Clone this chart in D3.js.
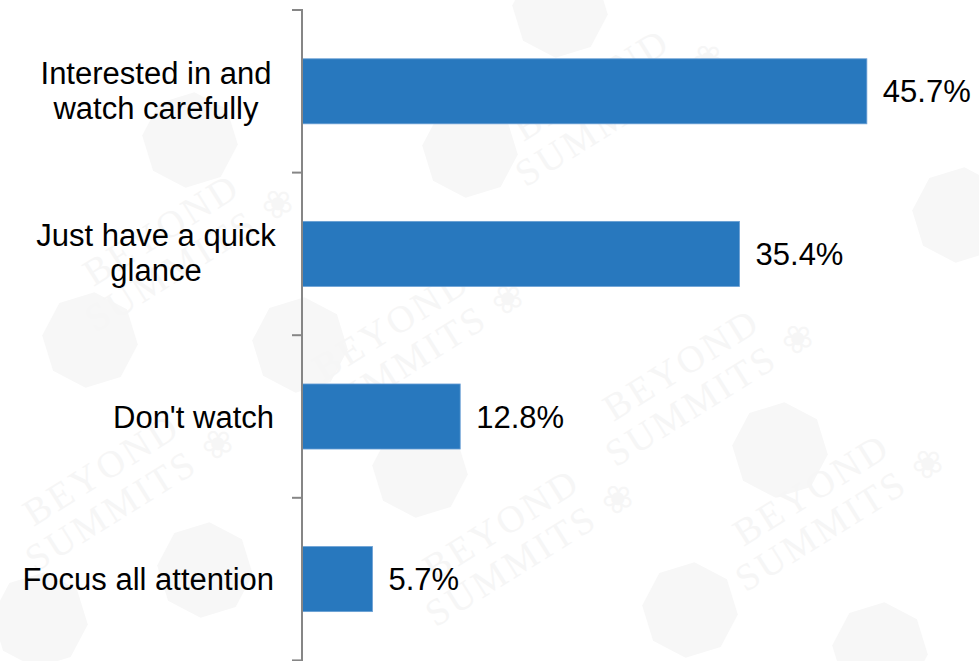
<!DOCTYPE html>
<html>
<head>
<meta charset="utf-8">
<script src="https://cdn.jsdelivr.net/npm/d3@7"></script>
<style>
  html, body { margin: 0; padding: 0; background: #ffffff; }
  svg { display: block; }
  .lbl { font-family: "Liberation Sans", Arial, sans-serif; }
  .wm-word { font-family: "Liberation Serif", "DejaVu Serif", serif; }
</style>
</head>
<body>
<svg id="chart" width="979" height="661"></svg>
<script>
// Survey answers, top to bottom
const categories = [
  "Interested in and\nwatch carefully",
  "Just have a quick\nglance",
  "Don't watch",
  "Focus all attention"
];
const values = [45.7, 35.4, 12.8, 5.7];
const valueLabels = ["45.7%", "35.4%", "12.8%", "5.7%"];

// Background brand watermark: logo badges and word marks
const markLogos = [
  [560, 10], [470, 150], [190, 140], [960, 215], [90, 340], [300, 345],
  [780, 450], [690, 610], [880, 650], [205, 570], [420, 470], [40, 620]
];
const markWords = [
  [610, 95], [410, 335], [700, 375], [180, 240], [520, 535], [830, 500], [120, 480]
];

const svg = d3.select("#chart");
const W = 979, H = 661;

// --- faint watermark ---
const wm = svg.append("g").attr("class", "watermark");
markLogos.forEach(([cx, cy]) => {
  const r = 48;
  const oct = d3.range(8).map(i => {
    const a = Math.PI / 8 + i * Math.PI / 4 - 0.3;
    return [cx + r * Math.cos(a), cy + r * Math.sin(a)];
  });
  wm.append("path")
    .attr("d", d3.line()(oct) + "Z")
    .attr("fill", "#f7f7f7");
});
markWords.forEach(([cx, cy]) => {
  const g = wm.append("g").attr("transform", `translate(${cx},${cy}) rotate(-32)`);
  g.append("text").attr("class", "wm-word")
    .attr("text-anchor", "middle")
    .attr("x", -10).attr("y", -6)
    .attr("font-size", 38)
    .attr("letter-spacing", 3)
    .attr("fill", "#f6f6f6")
    .text("BEYOND");
  g.append("text").attr("class", "wm-word")
    .attr("text-anchor", "middle")
    .attr("x", 0).attr("y", 34)
    .attr("font-size", 38)
    .attr("letter-spacing", 3)
    .attr("fill", "#f6f6f6")
    .text("SUMMITS ❀");
});

// --- scales ---
const x = d3.scaleLinear().domain([0, 50]).range([302, 920]);
const y = d3.scaleBand()
  .domain(categories)
  .range([10, 660.4])
  .paddingInner(0.6)
  .paddingOuter(0.3);

const step = y.step();
const bandTop = 10;

// --- bars ---
svg.append("g").selectAll("rect")
  .data(values)
  .join("rect")
  .attr("x", x(0))
  .attr("y", (d, i) => y(categories[i]))
  .attr("width", d => x(d) - x(0))
  .attr("height", y.bandwidth())
  .attr("fill", "#2878be")
  .attr("stroke", "#6a9fd4")
  .attr("stroke-width", 0.8);

// --- axis line and boundary ticks ---
const axis = svg.append("g");
axis.append("line")
  .attr("x1", x(0)).attr("x2", x(0))
  .attr("y1", bandTop - 1).attr("y2", H)
  .attr("stroke", "#868686").attr("stroke-width", 2);
axis.selectAll("line.tick")
  .data(d3.range(categories.length + 1))
  .join("line")
  .attr("class", "tick")
  .attr("x1", x(0) - 10).attr("x2", x(0))
  .attr("y1", i => bandTop + i * step)
  .attr("y2", i => bandTop + i * step)
  .attr("stroke", "#868686").attr("stroke-width", 2);

// --- category labels ---
const fontSize = 31;
const lineH = 35;
const capH = fontSize * 0.716;
const labelCenterX = 156;
svg.append("g").selectAll("text")
  .data(categories)
  .join("text")
  .attr("class", "lbl")
  .attr("font-size", fontSize)
  .attr("fill", "#000")
  .each(function (d) {
    const lines = d.split("\n");
    const cy = y(d) + y.bandwidth() / 2;
    const t = d3.select(this);
    if (lines.length === 1) {
      t.attr("text-anchor", "end")
        .attr("x", 274)
        .attr("y", cy + capH / 2)
        .text(lines[0]);
    } else {
      const first = cy - (lines.length - 1) * lineH / 2 + capH / 2 - 1;
      lines.forEach((ln, k) => {
        t.append("tspan")
          .attr("text-anchor", "middle")
          .attr("x", labelCenterX)
          .attr("y", first + k * lineH)
          .text(ln);
      });
    }
  });

// --- value labels ---
svg.append("g").selectAll("text")
  .data(values)
  .join("text")
  .attr("class", "lbl")
  .attr("font-size", fontSize)
  .attr("fill", "#000")
  .attr("x", d => x(d) + 16)
  .attr("y", (d, i) => y(categories[i]) + y.bandwidth() / 2 + capH / 2)
  .text((d, i) => valueLabels[i]);
</script>
</body>
</html>
